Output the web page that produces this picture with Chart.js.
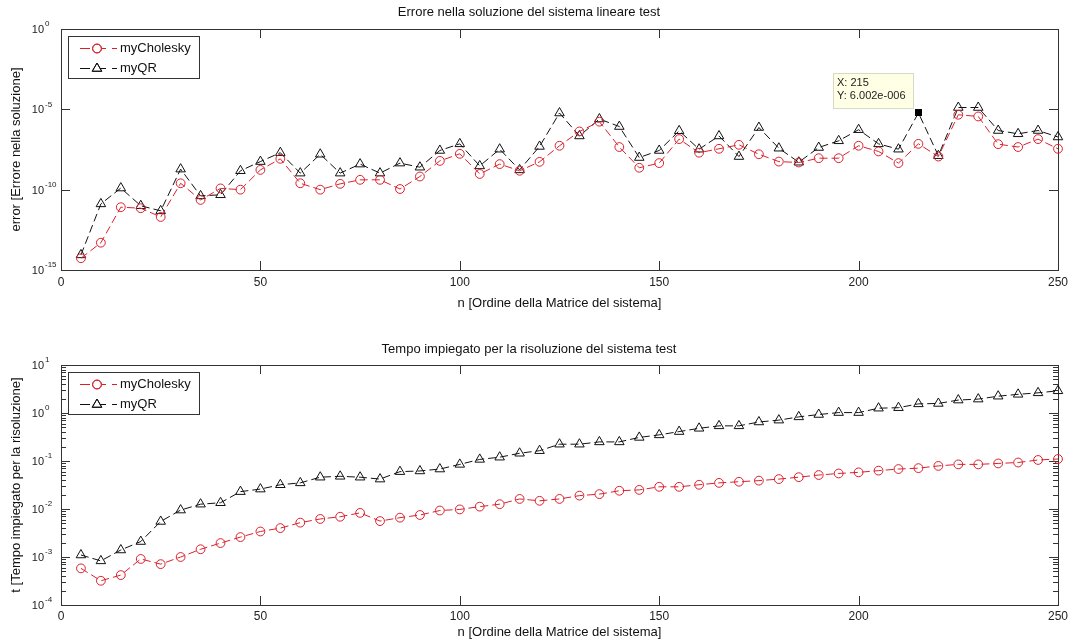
<!DOCTYPE html>
<html>
<head>
<meta charset="utf-8">
<script src="https://cdn.jsdelivr.net/npm/chart.js@4/dist/chart.umd.min.js"></script>
<style>
  body { margin: 0; background: #fff; }
  #wrap { position: relative; width: 1070px; height: 640px; }
  canvas { position: absolute; left: 0; }
  #errChart { top: 0; }
  #timeChart { top: 320px; }
</style>
</head>
<body>
<div id="wrap">
  <canvas id="errChart" width="1070" height="320"></canvas>
  <canvas id="timeChart" width="1070" height="320"></canvas>
</div>
<script>
// matrix order n
const n = [5, 10, 15, 20, 25, 30, 35, 40, 45, 50, 55, 60, 65, 70, 75, 80, 85, 90, 95, 100,
  105, 110, 115, 120, 125, 130, 135, 140, 145, 150, 155, 160, 165, 170, 175, 180, 185, 190, 195, 200,
  205, 210, 215, 220, 225, 230, 235, 240, 245, 250];

// error in the solution
const errCholesky = [5.4e-15, 5e-14, 8.1e-12, 7e-12, 2e-12, 2.5e-10, 2.3e-11, 1.2e-10, 1e-10, 1.7e-9,
  8.3e-9, 2.5e-10, 1e-10, 2.3e-10, 4.1e-10, 4.1e-10, 1.1e-10, 6.6e-10, 6.2e-9, 1.7e-8,
  9.5e-10, 3.9e-9, 1.5e-9, 5.4e-9, 5.4e-8, 4.2e-7, 1.7e-6, 4.5e-8, 2.3e-9, 4.5e-9,
  1.4e-7, 2e-8, 3.5e-8, 6.2e-8, 1.6e-8, 5.6e-9, 4.9e-9, 9.1e-9, 9.1e-9, 5.4e-8,
  2.4e-8, 4.5e-9, 7.1e-8, 1.15e-8, 4.6e-6, 3.6e-6, 6.8e-8, 4.5e-8, 1.4e-7, 3.5e-8];
const errQR = [8.7e-15, 1.3e-11, 1.26e-10, 1e-11, 4.8e-12, 1.9e-9, 4.1e-11, 4.8e-11, 1.5e-9, 5.6e-9,
  2e-8, 1.07e-9, 1.6e-8, 1.07e-9, 3.9e-9, 1.07e-9, 4.5e-9, 2.5e-9, 2.75e-8, 7.1e-8,
  3e-9, 3.3e-8, 1.7e-9, 4.9e-8, 5.9e-6, 2.2e-7, 2.5e-6, 8.5e-7, 1e-8, 2.75e-8,
  4.6e-7, 3.3e-8, 2.2e-7, 1.15e-8, 7.4e-7, 3.8e-8, 5.1e-9, 4.2e-8, 1.1e-7, 5.4e-7,
  7.1e-8, 3.3e-8, 6.002e-6, 1.3e-8, 1.3e-5, 1.3e-5, 4.8e-7, 3e-7, 4.8e-7, 1.9e-7];

// time spent
const timeCholesky = [5.8e-4, 3.2e-4, 4.2e-4, 9.1e-4, 7.1e-4, 1.0e-3, 1.45e-3, 1.95e-3, 2.6e-3, 3.4e-3,
  4.0e-3, 5.2e-3, 6.2e-3, 6.9e-3, 8.3e-3, 5.6e-3, 6.6e-3, 7.5e-3, 9.3e-3, 9.8e-3,
  1.12e-2, 1.26e-2, 1.62e-2, 1.48e-2, 1.62e-2, 1.9e-2, 2.04e-2, 2.4e-2, 2.5e-2, 2.9e-2,
  2.9e-2, 3.2e-2, 3.5e-2, 3.7e-2, 3.9e-2, 4.2e-2, 4.6e-2, 5.1e-2, 5.5e-2, 5.8e-2,
  6.3e-2, 6.8e-2, 7.1e-2, 7.9e-2, 8.5e-2, 8.5e-2, 8.9e-2, 9.3e-2, 0.105, 0.11];
const timeQR = [1.1e-3, 8.3e-4, 1.4e-3, 2.1e-3, 5.5e-3, 9.5e-3, 1.26e-2, 1.35e-2, 2.3e-2, 2.6e-2,
  3.2e-2, 3.5e-2, 4.6e-2, 4.8e-2, 4.6e-2, 4.2e-2, 6e-2, 6.2e-2, 6.8e-2, 8.5e-2,
  0.108, 0.12, 0.145, 0.164, 0.224, 0.224, 0.25, 0.25, 0.31, 0.35,
  0.41, 0.48, 0.54, 0.54, 0.65, 0.71, 0.83, 0.93, 1.02, 1.02,
  1.26, 1.29, 1.55, 1.58, 1.86, 1.95, 2.24, 2.45, 2.63, 2.9];

// axis ticks (y labels are 10 raised to these exponents)
const xTicks = [0, 50, 100, 150, 200, 250];
const errTicks = [1e-15, 1e-10, 1e-5, 1];
const errTickExp = ['-15', '-10', '-5', '0'];
const timeTicks = [1e-4, 1e-3, 1e-2, 1e-1, 1, 10];
const timeTickExp = ['-4', '-3', '-2', '-1', '0', '1'];

// data tip on the error plot
const tipX = 215;
const tipY = 6.002e-6;
const tipLines = ['X: 215', 'Y: 6.002e-006'];

const FONT = '"Liberation Sans", Arial, sans-serif';
const RED = 'rgb(218, 32, 44)';
const BLACK = '#111';
const DASH = [8, 4];

const pairs = (ys) => n.map((v, i) => ({ x: v, y: ys[i] }));

// box, inward ticks (major + log minor) and 10^k labels like matlab axes
const matlabAxes = {
  id: 'matlabAxes',
  beforeDatasetsDraw(chart, args, opts) {
    const { ctx, chartArea: a, scales: { x, y } } = chart;
    const major = 9, minor = 5;
    ctx.save();
    ctx.strokeStyle = '#333';
    ctx.lineWidth = 1;
    ctx.beginPath();
    x.ticks.forEach(t => {
      const px = Math.round(x.getPixelForValue(t.value)) + 0.5;
      ctx.moveTo(px, a.top); ctx.lineTo(px, a.top + major);
      ctx.moveTo(px, a.bottom); ctx.lineTo(px, a.bottom - major);
    });
    y.ticks.forEach(t => {
      const py = Math.round(y.getPixelForValue(t.value)) + 0.5;
      ctx.moveTo(a.left, py); ctx.lineTo(a.left + major, py);
      ctx.moveTo(a.right, py); ctx.lineTo(a.right - major, py);
    });
    if (opts.minor) {
      for (let i = 0; i < y.ticks.length - 1; i++) {
        const base = y.ticks[i].value;
        for (let k = 2; k <= 9; k++) {
          const py = Math.round(y.getPixelForValue(base * k)) + 0.5;
          ctx.moveTo(a.left, py); ctx.lineTo(a.left + minor, py);
          ctx.moveTo(a.right, py); ctx.lineTo(a.right - minor, py);
        }
      }
    }
    ctx.stroke();
    ctx.strokeRect(Math.round(a.left) + 0.5, Math.round(a.top) + 0.5, Math.round(a.width), Math.round(a.height));

    // y labels: "10" with a raised exponent
    ctx.fillStyle = '#222';
    ctx.textBaseline = 'middle';
    y.ticks.forEach((t, i) => {
      const py = y.getPixelForValue(t.value);
      const baseRight = a.left - 17;
      ctx.font = '11px ' + FONT;
      ctx.textAlign = 'right';
      ctx.fillText('10', baseRight, py + 1);
      ctx.font = '8px ' + FONT;
      ctx.textAlign = 'left';
      ctx.fillText(opts.exps[i], baseRight + 1, py - 5);
    });
    ctx.restore();
  }
};

// legend box in the upper left corner of the axes
const matlabLegend = {
  id: 'matlabLegend',
  afterDatasetsDraw(chart) {
    const { ctx, chartArea: a } = chart;
    const bx = a.left + 7, by = a.top + 7, bw = 131, bh = 42;
    ctx.save();
    ctx.fillStyle = '#fff';
    ctx.fillRect(bx, by, bw, bh);
    ctx.strokeStyle = '#333';
    ctx.lineWidth = 1;
    ctx.strokeRect(bx + 0.5, by + 0.5, bw, bh);
    chart.data.datasets.forEach((ds, i) => {
      const ly = Math.round(by + 12 + i * 20) + 0.5;
      ctx.strokeStyle = ds.borderColor;
      ctx.setLineDash([10, 6]);
      ctx.beginPath();
      ctx.moveTo(bx + 12, ly); ctx.lineTo(bx + 49, ly);
      ctx.stroke();
      ctx.setLineDash([]);
      ctx.fillStyle = '#fff';
      Chart.helpers.drawPoint(ctx, {
        pointStyle: ds.pointStyle, radius: ds.legendRadius, borderWidth: 1, rotation: 0
      }, bx + 29, ly);
      ctx.stroke();
      ctx.fillStyle = BLACK;
      ctx.font = '13px ' + FONT;
      ctx.textBaseline = 'middle';
      ctx.fillText(ds.label, bx + 52, ly);
    });
    ctx.restore();
  }
};

// yellow data tip with its black square marker
const dataTip = {
  id: 'dataTip',
  afterDraw(chart, args, opts) {
    if (!opts.show) return;
    const { ctx, scales: { x, y } } = chart;
    const px = x.getPixelForValue(tipX), py = y.getPixelForValue(tipY);
    ctx.save();
    ctx.fillStyle = '#000';
    ctx.fillRect(Math.round(px) - 3, Math.round(py) - 4, 7, 7);
    const bw = 80, bh = 35;
    const bx = Math.round(px) - 5 - bw, by = Math.round(py) - 5 - bh;
    ctx.fillStyle = '#ffffe6';
    ctx.fillRect(bx, by, bw, bh);
    ctx.strokeStyle = '#d8d8c4';
    ctx.strokeRect(bx + 0.5, by + 0.5, bw, bh);
    ctx.fillStyle = '#222';
    ctx.font = '11px ' + FONT;
    ctx.textBaseline = 'middle';
    tipLines.forEach((t, i) => ctx.fillText(t, bx + 4, by + 10 + i * 13));
    ctx.restore();
  }
};

function makeChart(id, opt) {
  const ctx = document.getElementById(id).getContext('2d');
  return new Chart(ctx, {
    type: 'line',
    data: {
      datasets: [
        {
          label: 'myCholesky',
          data: pairs(opt.chol),
          borderColor: RED,
          borderWidth: 1,
          borderDash: DASH,
          pointStyle: 'circle',
          pointRadius: 4.4,
          legendRadius: 4.4,
          pointBorderWidth: 1,
          pointBorderColor: RED,
          pointBackgroundColor: 'rgba(0,0,0,0)',
          fill: false,
          tension: 0,
          clip: false
        },
        {
          label: 'myQR',
          data: pairs(opt.qr),
          borderColor: BLACK,
          borderWidth: 1,
          borderDash: DASH,
          pointStyle: 'triangle',
          pointRadius: c => (opt.tip && c.raw && c.raw.x === tipX) ? 0 : 5.5,
          legendRadius: 5.5,
          pointBorderWidth: 1,
          pointBorderColor: BLACK,
          pointBackgroundColor: 'rgba(0,0,0,0)',
          fill: false,
          tension: 0,
          clip: false
        }
      ]
    },
    options: {
      responsive: false,
      animation: false,
      devicePixelRatio: 1,
      events: [],
      layout: { padding: { left: 0, right: 12, top: 0, bottom: 0 } },
      plugins: {
        legend: { display: false },
        tooltip: { enabled: false },
        title: {
          display: true,
          text: opt.title,
          color: BLACK,
          font: { family: FONT, size: 13, weight: 'normal' },
          padding: opt.titlePad
        },
        matlabAxes: { minor: opt.minor, exps: opt.yExps },
        dataTip: { show: opt.tip }
      },
      scales: {
        x: {
          type: 'linear',
          min: 0,
          max: 250,
          afterFit: s => {
            s.height = opt.xAxisH;
            s.paddingLeft = 0;
            s.paddingRight = 0;
          },
          afterBuildTicks: s => { s.ticks = xTicks.map(v => ({ value: v })); },
          grid: { display: false, drawTicks: false },
          border: { display: false },
          ticks: {
            color: '#222',
            padding: opt.xTickPad,
            maxRotation: 0,
            font: { family: FONT, size: 12 }
          },
          title: {
            display: true,
            text: 'n [Ordine della Matrice del sistema]',
            color: BLACK,
            font: { family: FONT, size: 13 },
            padding: { top: 0, bottom: opt.xTitlePad }
          }
        },
        y: {
          type: 'logarithmic',
          min: opt.yTicks[0],
          max: opt.yTicks[opt.yTicks.length - 1],
          afterFit: s => { s.width = 61; },
          afterBuildTicks: s => { s.ticks = opt.yTicks.map(v => ({ value: v })); },
          grid: { display: false, drawTicks: false },
          border: { display: false },
          ticks: { display: false },
          title: {
            display: true,
            text: opt.yTitle,
            color: BLACK,
            font: { family: FONT, size: 13 },
            padding: { top: 9, bottom: 0 }
          }
        }
      }
    },
    plugins: [matlabAxes, matlabLegend, dataTip]
  });
}

makeChart('errChart', {
  title: 'Errore nella soluzione del sistema lineare test',
  titlePad: { top: 4.2, bottom: 9.2 },
  yTitle: 'error [Errore nella soluzione]',
  chol: errCholesky,
  qr: errQR,
  yTicks: errTicks,
  yExps: errTickExp,
  minor: false,
  tip: true,
  xAxisH: 50,
  xTickPad: 5,
  xTitlePad: 9
});

makeChart('timeChart', {
  title: 'Tempo impiegato per la risoluzione del sistema test',
  titlePad: { top: 21.2, bottom: 8.2 },
  yTitle: 't [Tempo impiegato per la risoluzione]',
  chol: timeCholesky,
  qr: timeQR,
  yTicks: timeTicks,
  yExps: timeTickExp,
  minor: true,
  tip: false,
  xAxisH: 35,
  xTickPad: 4,
  xTitlePad: 0
});
</script>
</body>
</html>
